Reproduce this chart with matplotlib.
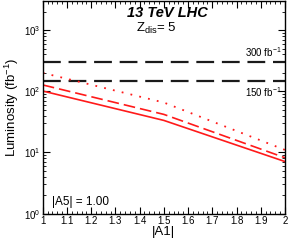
import matplotlib
matplotlib.use("Agg")
import matplotlib.pyplot as plt
from matplotlib.ticker import MultipleLocator, LogLocator, FixedLocator, NullFormatter

plt.rcParams['font.family'] = ['Liberation Sans', 'DejaVu Sans']
plt.rcParams['mathtext.fontset'] = 'custom'
plt.rcParams['mathtext.rm'] = 'Liberation Sans'
plt.rcParams['mathtext.it'] = 'Liberation Sans:italic'

a1 = [1.0, 1.5, 2.0]
lum_solid = [101, 33.4, 7.1]
lum_dashed = [127, 41.9, 8.2]
lum_dotted = [200, 65.5, 11.0]
ref_lines = [300, 150]
xticks = [1.0, 1.1, 1.2, 1.3, 1.4, 1.5, 1.6, 1.7, 1.8, 1.9, 2.0]
xticklabels = ['1', '1.1', '1.2', '1.3', '1.4', '1.5', '1.6', '1.7', '1.8', '1.9', '2']

fig = plt.figure(figsize=(2.89, 2.40), dpi=100)
ax = fig.add_axes([0.148, 0.110, 0.838, 0.886])

for v in ref_lines:
    ax.axhline(v, color='#1a1a1a', lw=1.6, dashes=(8, 3.5))

ax.plot(a1, lum_solid, color='#ff1a1a', lw=1.2)
ax.plot(a1, lum_dashed, color='#ff1a1a', lw=1.2, dashes=(7, 3))
ax.plot(a1, lum_dotted, color='#ff1a1a', lw=1.3, dashes=(1, 4))

ax.set_yscale('log')
ax.set_xlim(1, 2)
ax.set_ylim(1, 3000)
ax.xaxis.set_major_locator(FixedLocator(xticks))
ax.set_xticklabels(xticklabels)
ax.xaxis.set_minor_locator(MultipleLocator(0.02))
ax.yaxis.set_major_locator(LogLocator(base=10, numticks=10))
ax.yaxis.set_minor_locator(LogLocator(base=10, subs=range(2, 10), numticks=20))
ax.yaxis.set_minor_formatter(NullFormatter())
ax.tick_params(which='both', direction='in', top=True, right=True, labelsize=7, pad=2)
ax.tick_params(which='major', length=5, width=0.8)
ax.tick_params(which='minor', length=2.5, width=0.6)
for s in ax.spines.values():
    s.set_linewidth(1.0)

ax.set_xlabel('|A1|', fontsize=9.5, labelpad=0)
ax.set_ylabel('Luminosity (fb$^{-1}$)', fontsize=9.5, labelpad=2)

ax.text(0.513, 0.944, '13 TeV LHC', transform=ax.transAxes, fontsize=10.5,
        fontweight='bold', fontstyle='italic', ha='center', va='center')
ax.text(0.47, 0.87, 'Z$_{\\rm dis}$= 5', transform=ax.transAxes, fontsize=9.5,
        ha='center', va='center')
ax.text(0.985, 340, '300 fb$^{-1}$', transform=ax.get_yaxis_transform(), fontsize=7,
        ha='right', va='bottom')
ax.text(0.985, 128, '150 fb$^{-1}$', transform=ax.get_yaxis_transform(), fontsize=7,
        ha='right', va='top')
ax.text(0.04, 0.025, '|A5| = 1.00', transform=ax.transAxes, fontsize=8.5,
        ha='left', va='bottom')

fig.savefig('out.png', dpi=100)
